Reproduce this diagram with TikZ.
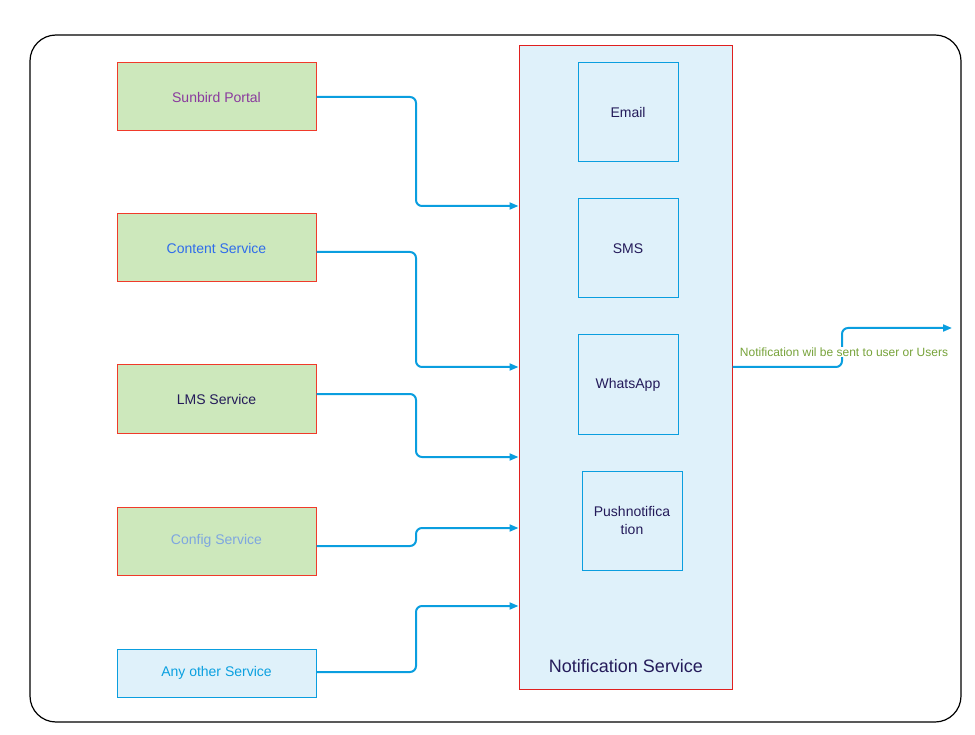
\documentclass[tikz,border=0pt]{standalone}
\usepackage{fontspec}
\setmainfont{Liberation Sans}
\usetikzlibrary{arrows.meta}
\definecolor{srcfill}{HTML}{CDE8BC}
\definecolor{srcline}{HTML}{F03A2A}
\definecolor{svcfill}{HTML}{DFF1FA}
\definecolor{svcline}{HTML}{E0201F}
\definecolor{wire}{HTML}{0A9EDF}
\definecolor{navy}{HTML}{241B5A}
\definecolor{portaltxt}{HTML}{8A3A9E}
\definecolor{contenttxt}{HTML}{2F6CEB}
\definecolor{configtxt}{HTML}{7EA6E0}
\definecolor{anytxt}{HTML}{0AA0E0}
\definecolor{notetxt}{HTML}{77A33A}
\begin{document}
\begin{tikzpicture}[x=1pt,y=-1pt,
  srcbox/.style={draw=srcline, fill=srcfill, line width=1pt, minimum width=199pt, minimum height=68pt, inner sep=0pt, font=\fontsize{14}{16}\selectfont},
  chanbox/.style={draw=wire, line width=1pt, minimum width=100pt, minimum height=99pt, inner sep=0pt, align=center, font=\fontsize{14}{18}\selectfont, text=navy},
  link/.style={draw=wire, line width=2pt, rounded corners=6pt, -{Triangle[length=9pt,width=7pt]}}]
\useasboundingbox (0,0) rectangle (975,735);
% outer frame
\draw[line width=1.2pt, rounded corners=26pt] (30,35) rectangle (961,722);
% notification service container
\node[draw=svcline, fill=svcfill, line width=1pt, minimum width=213pt, minimum height=643pt, inner sep=0pt] (ns) at (625.5,367.5) {};
\node[text=navy, font=\fontsize{18}{20}\selectfont] (nslabel) at (626,666) {Notification Service};
% channels
\node[chanbox] (email) at (628,112.5) {Email};
\node[chanbox] (sms) at (628,248.5) {SMS};
\node[chanbox] (wa) at (628,384.5) {WhatsApp};
\node[chanbox] (push) at (632,520.5) {Pushnotifica\\tion};
% sources
\node[srcbox, text=portaltxt] (portal) at (216.5,97) {Sunbird Portal};
\node[srcbox, text=contenttxt] (content) at (216.5,248) {Content Service};
\node[srcbox, text=navy] (lms) at (216.5,399) {LMS Service};
\node[srcbox, text=configtxt] (config) at (216.5,541) {Config Service};
\node[draw=wire, fill=svcfill, line width=1pt, minimum width=199pt, minimum height=48pt, inner sep=0pt, text=anytxt, font=\fontsize{14}{16}\selectfont] (other) at (216.5,673) {Any other Service};
% connectors into the service
\draw[link] (portal.east) -- (416,97) -- (416,206) -- (ns.west |- 0,206);
\draw[link] (content.east |- 0,252) -- (416,252) -- (416,367) -- (ns.west |- 0,367);
\draw[link] (lms.east |- 0,394) -- (416,394) -- (416,457) -- (ns.west |- 0,457);
\draw[link] (config.east |- 0,546) -- (416,546) -- (416,528) -- (ns.west |- 0,528);
\draw[link] (other.east |- 0,672) -- (416,672) -- (416,606) -- (ns.west |- 0,606);
% outgoing delivery
\coordinate (out) at (952,328);
\draw[link] (ns.east |- 0,367) -- (842,367) -- (842,328) -- (out);
\node[text=notetxt, font=\fontsize{12}{14}\selectfont, fill=white, inner sep=1pt] (note) at (844,352) {Notification wil be sent to user or Users};
\end{tikzpicture}
\end{document}
